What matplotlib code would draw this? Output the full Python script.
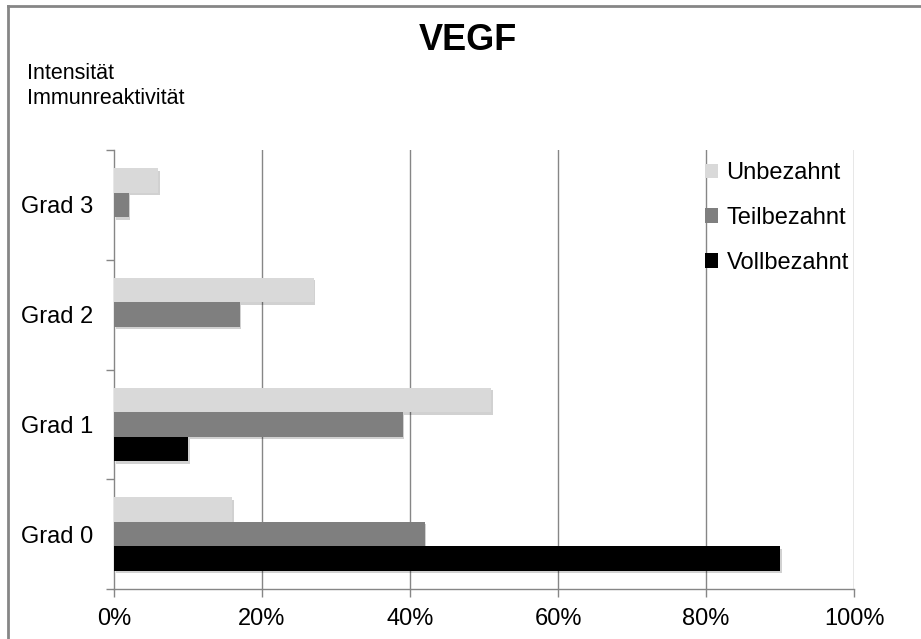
import numpy as np
import matplotlib.pyplot as plt
import matplotlib.patheffects as pe
from matplotlib.lines import Line2D
from matplotlib.patches import Patch
from matplotlib.ticker import FixedLocator, PercentFormatter

plt.rcParams['font.family'] = ['Liberation Sans', 'DejaVu Sans']

categories = ['Grad 0', 'Grad 1', 'Grad 2', 'Grad 3']
unbezahnt = [16, 51, 27, 6]
teilbezahnt = [42, 39, 17, 2]
vollbezahnt = [90, 10, 0, 0]
series_names = ['Unbezahnt', 'Teilbezahnt', 'Vollbezahnt']
xticks = [0, 20, 40, 60, 80, 100]

W, H = 921, 639
fig = plt.figure(figsize=(W / 100, H / 100), dpi=100, facecolor='white')
ax = fig.add_axes([114 / W, (H - 589) / H, (854 - 114) / W, (589 - 150) / H])

grid_c = '#868686'
y = np.arange(len(categories))
h = 0.223
shadow = [pe.SimplePatchShadow(offset=(1.2, -1.8), shadow_rgbFace='#000000', alpha=0.18),
          pe.Normal()]

colors = ['#d9d9d9', '#7f7f7f', '#000000']
series = [(unbezahnt, h), (teilbezahnt, 0), (vollbezahnt, -h)]
for (vals, off), col, name in zip(series, colors, series_names):
    bars = ax.barh(y + off, vals, height=h, color=col, label=name, zorder=3, linewidth=0)
    for b in bars:
        if b.get_width() > 0:
            b.set_path_effects(shadow)

ax.set_xlim(0, 100)
ax.set_ylim(-0.5, len(categories) - 0.5)

# gridlines
for v in xticks[1:]:
    ax.axvline(v, color=grid_c, lw=1, zorder=1)

ax.xaxis.set_major_locator(FixedLocator(xticks))
ax.xaxis.set_major_formatter(PercentFormatter(decimals=0))
ax.set_yticks(y)
ax.set_yticklabels(categories)
ax.set_yticks(np.arange(-0.5, len(categories)), minor=True)
ax.tick_params(axis='y', which='major', length=0, pad=15, labelsize=17)
ax.tick_params(axis='y', which='minor', length=6, color=grid_c, width=1)
ax.tick_params(axis='x', length=6, color=grid_c, width=1, labelsize=17, pad=8)

for s in ['top', 'right']:
    ax.spines[s].set_visible(False)
for s in ['left', 'bottom']:
    ax.spines[s].set_color(grid_c)
    ax.spines[s].set_linewidth(1)

handles = [Patch(facecolor=c, edgecolor='none') for c in colors]
ax.legend(handles=handles, labels=series_names, loc='upper left',
          bbox_to_anchor=((691 - 114) / (854 - 114), 1.005), frameon=False,
          fontsize=17, handlelength=0.55, handleheight=0.55, handletextpad=0.35,
          labelspacing=0.97, borderaxespad=0.2)

fig.text(468 / W, 1 - 41 / H, 'VEGF', ha='center', va='center', fontsize=26, fontweight='bold')
fig.text(27 / W, 1 - 86 / H, 'Intensität\nImmunreaktivität', ha='left', va='center',
         fontsize=15.5, linespacing=1.2)

# chart frame (top and left edges visible)
fig.add_artist(Line2D([8 / W, 1], [1 - 6 / H, 1 - 6 / H], color=grid_c, lw=2, transform=fig.transFigure))
fig.add_artist(Line2D([8 / W, 8 / W], [0, 1 - 6 / H], color=grid_c, lw=2, transform=fig.transFigure))

fig.savefig('out.png', dpi=100, facecolor='white')
